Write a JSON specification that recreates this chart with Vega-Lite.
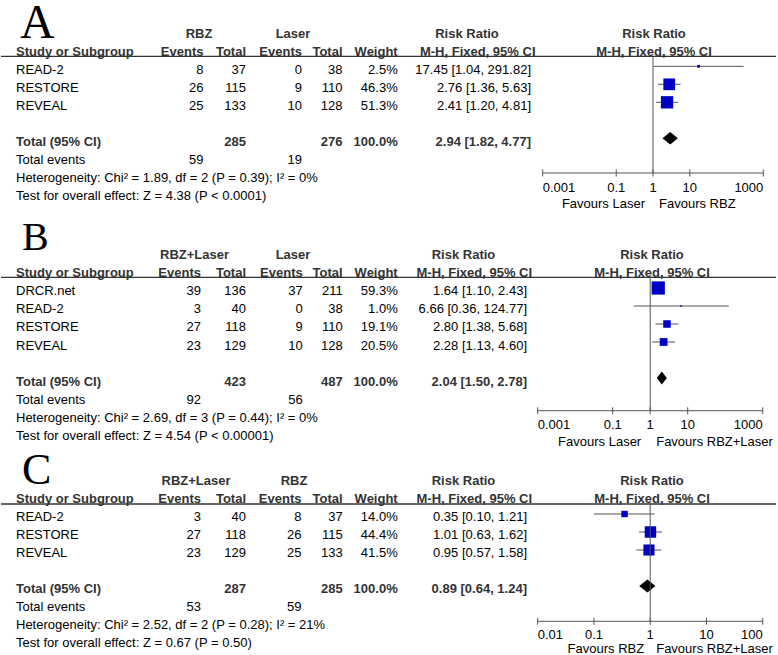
{
"$schema": "https://vega.github.io/schema/vega-lite/v6.json",
"background": "white",
"padding": 0,
"spacing": 0,
"bounds": "flush",
"config": {"view": {"stroke": null}, "text": {"font": "Liberation Sans", "fontSize": 13}},
"datasets": {
"cells": [
{"p":"A","r":-2,"c":12,"k":"L","t":"A"},
{"p":"A","r":-2,"c":7,"k":"h","t":"RBZ"},
{"p":"A","r":-2,"c":8,"k":"h","t":"Laser"},
{"p":"A","r":-2,"c":9,"k":"h","t":"Risk Ratio"},
{"p":"A","r":-2,"c":11,"k":"h","t":"Risk Ratio"},
{"p":"A","r":-1,"c":0,"k":"h","t":"Study or Subgroup"},
{"p":"A","r":-1,"c":1,"k":"h","t":"Events"},
{"p":"A","r":-1,"c":2,"k":"h","t":"Total"},
{"p":"A","r":-1,"c":3,"k":"h","t":"Events"},
{"p":"A","r":-1,"c":4,"k":"h","t":"Total"},
{"p":"A","r":-1,"c":5,"k":"h","t":"Weight"},
{"p":"A","r":-1,"c":10,"k":"h","t":"M-H, Fixed, 95% CI"},
{"p":"A","r":-1,"c":11,"k":"h","t":"M-H, Fixed, 95% CI"},
{"p":"A","r":0,"c":0,"k":"s","t":"READ-2"},
{"p":"A","r":0,"c":1,"k":"s","t":"8"},
{"p":"A","r":0,"c":2,"k":"s","t":"37"},
{"p":"A","r":0,"c":3,"k":"s","t":"0"},
{"p":"A","r":0,"c":4,"k":"s","t":"38"},
{"p":"A","r":0,"c":5,"k":"s","t":"2.5%"},
{"p":"A","r":0,"c":6,"k":"s","t":"17.45 [1.04, 291.82]"},
{"p":"A","r":1,"c":0,"k":"s","t":"RESTORE"},
{"p":"A","r":1,"c":1,"k":"s","t":"26"},
{"p":"A","r":1,"c":2,"k":"s","t":"115"},
{"p":"A","r":1,"c":3,"k":"s","t":"9"},
{"p":"A","r":1,"c":4,"k":"s","t":"110"},
{"p":"A","r":1,"c":5,"k":"s","t":"46.3%"},
{"p":"A","r":1,"c":6,"k":"s","t":"2.76 [1.36, 5.63]"},
{"p":"A","r":2,"c":0,"k":"s","t":"REVEAL"},
{"p":"A","r":2,"c":1,"k":"s","t":"25"},
{"p":"A","r":2,"c":2,"k":"s","t":"133"},
{"p":"A","r":2,"c":3,"k":"s","t":"10"},
{"p":"A","r":2,"c":4,"k":"s","t":"128"},
{"p":"A","r":2,"c":5,"k":"s","t":"51.3%"},
{"p":"A","r":2,"c":6,"k":"s","t":"2.41 [1.20, 4.81]"},
{"p":"A","r":4,"c":0,"k":"T","t":"Total (95% CI)"},
{"p":"A","r":4,"c":2,"k":"T","t":"285"},
{"p":"A","r":4,"c":4,"k":"T","t":"276"},
{"p":"A","r":4,"c":5,"k":"T","t":"100.0%"},
{"p":"A","r":4,"c":6,"k":"T","t":"2.94 [1.82, 4.77]"},
{"p":"A","r":5,"c":0,"k":"f","t":"Total events"},
{"p":"A","r":5,"c":1,"k":"f","t":"59"},
{"p":"A","r":5,"c":3,"k":"f","t":"19"},
{"p":"A","r":6,"c":0,"k":"f","t":"Heterogeneity: Chi² = 1.89, df = 2 (P = 0.39); I² = 0%"},
{"p":"A","r":7,"c":0,"k":"f","t":"Test for overall effect: Z = 4.38 (P < 0.0001)"},
{"p":"B","r":-2,"c":12,"k":"L","t":"B"},
{"p":"B","r":-2,"c":7,"k":"h","t":"RBZ+Laser"},
{"p":"B","r":-2,"c":8,"k":"h","t":"Laser"},
{"p":"B","r":-2,"c":9,"k":"h","t":"Risk Ratio"},
{"p":"B","r":-2,"c":11,"k":"h","t":"Risk Ratio"},
{"p":"B","r":-1,"c":0,"k":"h","t":"Study or Subgroup"},
{"p":"B","r":-1,"c":1,"k":"h","t":"Events"},
{"p":"B","r":-1,"c":2,"k":"h","t":"Total"},
{"p":"B","r":-1,"c":3,"k":"h","t":"Events"},
{"p":"B","r":-1,"c":4,"k":"h","t":"Total"},
{"p":"B","r":-1,"c":5,"k":"h","t":"Weight"},
{"p":"B","r":-1,"c":10,"k":"h","t":"M-H, Fixed, 95% CI"},
{"p":"B","r":-1,"c":11,"k":"h","t":"M-H, Fixed, 95% CI"},
{"p":"B","r":0,"c":0,"k":"s","t":"DRCR.net"},
{"p":"B","r":0,"c":1,"k":"s","t":"39"},
{"p":"B","r":0,"c":2,"k":"s","t":"136"},
{"p":"B","r":0,"c":3,"k":"s","t":"37"},
{"p":"B","r":0,"c":4,"k":"s","t":"211"},
{"p":"B","r":0,"c":5,"k":"s","t":"59.3%"},
{"p":"B","r":0,"c":6,"k":"s","t":"1.64 [1.10, 2.43]"},
{"p":"B","r":1,"c":0,"k":"s","t":"READ-2"},
{"p":"B","r":1,"c":1,"k":"s","t":"3"},
{"p":"B","r":1,"c":2,"k":"s","t":"40"},
{"p":"B","r":1,"c":3,"k":"s","t":"0"},
{"p":"B","r":1,"c":4,"k":"s","t":"38"},
{"p":"B","r":1,"c":5,"k":"s","t":"1.0%"},
{"p":"B","r":1,"c":6,"k":"s","t":"6.66 [0.36, 124.77]"},
{"p":"B","r":2,"c":0,"k":"s","t":"RESTORE"},
{"p":"B","r":2,"c":1,"k":"s","t":"27"},
{"p":"B","r":2,"c":2,"k":"s","t":"118"},
{"p":"B","r":2,"c":3,"k":"s","t":"9"},
{"p":"B","r":2,"c":4,"k":"s","t":"110"},
{"p":"B","r":2,"c":5,"k":"s","t":"19.1%"},
{"p":"B","r":2,"c":6,"k":"s","t":"2.80 [1.38, 5.68]"},
{"p":"B","r":3,"c":0,"k":"s","t":"REVEAL"},
{"p":"B","r":3,"c":1,"k":"s","t":"23"},
{"p":"B","r":3,"c":2,"k":"s","t":"129"},
{"p":"B","r":3,"c":3,"k":"s","t":"10"},
{"p":"B","r":3,"c":4,"k":"s","t":"128"},
{"p":"B","r":3,"c":5,"k":"s","t":"20.5%"},
{"p":"B","r":3,"c":6,"k":"s","t":"2.28 [1.13, 4.60]"},
{"p":"B","r":5,"c":0,"k":"T","t":"Total (95% CI)"},
{"p":"B","r":5,"c":2,"k":"T","t":"423"},
{"p":"B","r":5,"c":4,"k":"T","t":"487"},
{"p":"B","r":5,"c":5,"k":"T","t":"100.0%"},
{"p":"B","r":5,"c":6,"k":"T","t":"2.04 [1.50, 2.78]"},
{"p":"B","r":6,"c":0,"k":"f","t":"Total events"},
{"p":"B","r":6,"c":1,"k":"f","t":"92"},
{"p":"B","r":6,"c":3,"k":"f","t":"56"},
{"p":"B","r":7,"c":0,"k":"f","t":"Heterogeneity: Chi² = 2.69, df = 3 (P = 0.44); I² = 0%"},
{"p":"B","r":8,"c":0,"k":"f","t":"Test for overall effect: Z = 4.54 (P < 0.00001)"},
{"p":"C","r":-2,"c":12,"k":"L","t":"C"},
{"p":"C","r":-2,"c":7,"k":"h","t":"RBZ+Laser"},
{"p":"C","r":-2,"c":8,"k":"h","t":"RBZ"},
{"p":"C","r":-2,"c":9,"k":"h","t":"Risk Ratio"},
{"p":"C","r":-2,"c":11,"k":"h","t":"Risk Ratio"},
{"p":"C","r":-1,"c":0,"k":"h","t":"Study or Subgroup"},
{"p":"C","r":-1,"c":1,"k":"h","t":"Events"},
{"p":"C","r":-1,"c":2,"k":"h","t":"Total"},
{"p":"C","r":-1,"c":3,"k":"h","t":"Events"},
{"p":"C","r":-1,"c":4,"k":"h","t":"Total"},
{"p":"C","r":-1,"c":5,"k":"h","t":"Weight"},
{"p":"C","r":-1,"c":10,"k":"h","t":"M-H, Fixed, 95% CI"},
{"p":"C","r":-1,"c":11,"k":"h","t":"M-H, Fixed, 95% CI"},
{"p":"C","r":0,"c":0,"k":"s","t":"READ-2"},
{"p":"C","r":0,"c":1,"k":"s","t":"3"},
{"p":"C","r":0,"c":2,"k":"s","t":"40"},
{"p":"C","r":0,"c":3,"k":"s","t":"8"},
{"p":"C","r":0,"c":4,"k":"s","t":"37"},
{"p":"C","r":0,"c":5,"k":"s","t":"14.0%"},
{"p":"C","r":0,"c":6,"k":"s","t":"0.35 [0.10, 1.21]"},
{"p":"C","r":1,"c":0,"k":"s","t":"RESTORE"},
{"p":"C","r":1,"c":1,"k":"s","t":"27"},
{"p":"C","r":1,"c":2,"k":"s","t":"118"},
{"p":"C","r":1,"c":3,"k":"s","t":"26"},
{"p":"C","r":1,"c":4,"k":"s","t":"115"},
{"p":"C","r":1,"c":5,"k":"s","t":"44.4%"},
{"p":"C","r":1,"c":6,"k":"s","t":"1.01 [0.63, 1.62]"},
{"p":"C","r":2,"c":0,"k":"s","t":"REVEAL"},
{"p":"C","r":2,"c":1,"k":"s","t":"23"},
{"p":"C","r":2,"c":2,"k":"s","t":"129"},
{"p":"C","r":2,"c":3,"k":"s","t":"25"},
{"p":"C","r":2,"c":4,"k":"s","t":"133"},
{"p":"C","r":2,"c":5,"k":"s","t":"41.5%"},
{"p":"C","r":2,"c":6,"k":"s","t":"0.95 [0.57, 1.58]"},
{"p":"C","r":4,"c":0,"k":"T","t":"Total (95% CI)"},
{"p":"C","r":4,"c":2,"k":"T","t":"287"},
{"p":"C","r":4,"c":4,"k":"T","t":"285"},
{"p":"C","r":4,"c":5,"k":"T","t":"100.0%"},
{"p":"C","r":4,"c":6,"k":"T","t":"0.89 [0.64, 1.24]"},
{"p":"C","r":5,"c":0,"k":"f","t":"Total events"},
{"p":"C","r":5,"c":1,"k":"f","t":"53"},
{"p":"C","r":5,"c":3,"k":"f","t":"59"},
{"p":"C","r":6,"c":0,"k":"f","t":"Heterogeneity: Chi² = 2.52, df = 2 (P = 0.28); I² = 21%"},
{"p":"C","r":7,"c":0,"k":"f","t":"Test for overall effect: Z = 0.67 (P = 0.50)"}
],
"studies": [
{"p":"A","r":0,"est":17.45,"lo":1.04,"hi":291.82,"w":2.5},
{"p":"A","r":1,"est":2.76,"lo":1.36,"hi":5.63,"w":46.3},
{"p":"A","r":2,"est":2.41,"lo":1.20,"hi":4.81,"w":51.3},
{"p":"B","r":0,"est":1.64,"lo":1.10,"hi":2.43,"w":59.3},
{"p":"B","r":1,"est":6.66,"lo":0.36,"hi":124.77,"w":1.0},
{"p":"B","r":2,"est":2.80,"lo":1.38,"hi":5.68,"w":19.1},
{"p":"B","r":3,"est":2.28,"lo":1.13,"hi":4.60,"w":20.5},
{"p":"C","r":0,"est":0.35,"lo":0.10,"hi":1.21,"w":14.0},
{"p":"C","r":1,"est":1.01,"lo":0.63,"hi":1.62,"w":44.4},
{"p":"C","r":2,"est":0.95,"lo":0.57,"hi":1.58,"w":41.5}
],
"totals": [
{"p":"A","r":4,"est":2.94,"lo":1.82,"hi":4.77},
{"p":"B","r":5,"est":2.04,"lo":1.50,"hi":2.78},
{"p":"C","r":4,"est":0.89,"lo":0.64,"hi":1.24}
],
"ticks": [
{"p":"A","v":0.001,"t":"0.001"},{"p":"A","v":0.1,"t":"0.1"},{"p":"A","v":1,"t":"1"},{"p":"A","v":10,"t":"10"},{"p":"A","v":1000,"t":"1000"},
{"p":"B","v":0.001,"t":"0.001"},{"p":"B","v":0.1,"t":"0.1"},{"p":"B","v":1,"t":"1"},{"p":"B","v":10,"t":"10"},{"p":"B","v":1000,"t":"1000"},
{"p":"C","v":0.01,"t":"0.01"},{"p":"C","v":0.1,"t":"0.1"},{"p":"C","v":1,"t":"1"},{"p":"C","v":10,"t":"10"},{"p":"C","v":100,"t":"100"}
],
"fav": [
{"p":"A","s":"L","t":"Favours Laser"},{"p":"A","s":"R","t":"Favours RBZ"},
{"p":"B","s":"L","t":"Favours Laser"},{"p":"B","s":"R","t":"Favours RBZ+Laser"},
{"p":"C","s":"L","t":"Favours RBZ"},{"p":"C","s":"R","t":"Favours RBZ+Laser"}
]
},
"vconcat": [
{
"width": 775, "height": 216,
"resolve": {"scale": {"x": "independent"}},
"layer": [
{
"data": {"name": "cells"},
"encoding": {
"x": {"field": "c", "type": "quantitative", "axis": null, "scale": {"domain": [0,1,2,3,4,5,6,7,8,9,10,11,12], "range": [15,202.5,245,301,341.5,396.7,530,198,292,466,476.7,653,19], "zero": false, "nice": false}},
"y": {"field": "r", "type": "quantitative", "axis": null, "scale": {"domain": [-3.517, 8.483], "reverse": true, "zero": false, "nice": false}},
"text": {"field": "t"}
},
"layer": [
{"transform": [{"filter": "datum.p=='A' && datum.c==0 && (datum.k=='s' || datum.k=='f')"}], "mark": {"type": "text", "align": "left", "baseline": "middle", "dy": 3.5, "color": "#000"}},
{"transform": [{"filter": "datum.p=='A' && datum.c==0 && (datum.k=='h' || datum.k=='T')"}], "mark": {"type": "text", "align": "left", "baseline": "middle", "dy": 3.5, "fontWeight": "bold", "color": "#333"}},
{"transform": [{"filter": "datum.p=='A' && datum.c>=1 && datum.c<=6 && (datum.k=='s' || datum.k=='f')"}], "mark": {"type": "text", "align": "right", "baseline": "middle", "dy": 3.5, "color": "#000"}},
{"transform": [{"filter": "datum.p=='A' && datum.c>=1 && datum.c<=6 && (datum.k=='h' || datum.k=='T')"}], "mark": {"type": "text", "align": "right", "baseline": "middle", "dy": 3.5, "fontWeight": "bold", "color": "#333"}},
{"transform": [{"filter": "datum.p=='A' && datum.c>=7 && datum.c<=11"}], "mark": {"type": "text", "align": "center", "baseline": "middle", "dy": 3.5, "fontWeight": "bold", "color": "#333"}},
{"transform": [{"filter": "datum.p=='A' && datum.k=='L'"}], "mark": {"type": "text", "align": "left", "baseline": "alphabetic", "dy": 7.7, "font": "Liberation Serif", "fontSize": 48, "color": "#000"}}
]
},
{
"layer": [
{"data": {"values": [{}]}, "mark": {"type": "rule", "color": "#333", "strokeWidth": 1.3}, "encoding": {"y": {"datum": -0.556, "axis": null}}},
{"data": {"name": "studies"}, "transform": [{"filter": "datum.p=='A'"}], "mark": {"type": "rule", "color": "#555", "strokeWidth": 1},
 "encoding": {"x": {"field": "lo", "type": "quantitative", "axis": null, "scale": {"type": "log", "domain": [0.001, 1000], "range": [541.7, 762.3], "nice": false}}, "x2": {"field": "hi"}, "y": {"field": "r", "type": "quantitative", "axis": null}}},
{"data": {"name": "studies"}, "transform": [{"filter": "datum.p=='A'"}], "mark": {"type": "point", "shape": "square", "filled": true, "color": "#0000c4", "opacity": 1},
 "encoding": {"x": {"field": "est", "type": "quantitative", "axis": null, "scale": {"type": "log", "domain": [0.001, 1000], "range": [541.7, 762.3], "nice": false}}, "y": {"field": "r", "type": "quantitative", "axis": null}, "size": {"field": "w", "type": "quantitative", "scale": {"domain": [0, 100], "range": [0, 296]}, "legend": null}}},
{"data": {"name": "totals"}, "transform": [{"filter": "datum.p=='A'"}], "mark": {"type": "point", "shape": "M-1,0L0,-0.81L1,0L0,0.81Z", "size": 237, "filled": true, "color": "#000", "opacity": 1},
 "encoding": {"x": {"field": "est", "type": "quantitative", "axis": null, "scale": {"type": "log", "domain": [0.001, 1000], "range": [541.7, 762.3], "nice": false}}, "y": {"field": "r", "type": "quantitative", "axis": null}}},
{"data": {"values": [{}]}, "mark": {"type": "rule", "color": "#555", "strokeWidth": 1},
 "encoding": {"x": {"datum": 1, "axis": null, "scale": {"type": "log", "domain": [0.001, 1000], "range": [541.7, 762.3], "nice": false}}, "y": {"datum": -0.556, "axis": null}, "y2": {"datum": 5.928}}},
{"data": {"values": [{}]}, "mark": {"type": "rule", "color": "#555", "strokeWidth": 1},
 "encoding": {"x": {"datum": 0.001, "axis": null, "scale": {"type": "log", "domain": [0.001, 1000], "range": [541.7, 762.3], "nice": false}}, "x2": {"datum": 1000}, "y": {"datum": 5.928, "axis": null}}},
{"data": {"name": "ticks"}, "transform": [{"filter": "datum.p=='A'"}], "mark": {"type": "tick", "orient": "vertical", "size": 7, "thickness": 1, "color": "#555", "opacity": 1},
 "encoding": {"x": {"field": "v", "type": "quantitative", "axis": null, "scale": {"type": "log", "domain": [0.001, 1000], "range": [541.7, 762.3], "nice": false}}, "y": {"datum": 5.928, "axis": null}}},
{"data": {"name": "ticks"}, "transform": [{"filter": "datum.p=='A' && datum.v==0.001"}], "mark": {"type": "text", "align": "left", "baseline": "middle", "dy": 15, "color": "#000"},
 "encoding": {"x": {"field": "v", "type": "quantitative", "axis": null, "scale": {"type": "log", "domain": [0.001, 1000], "range": [541.7, 762.3], "nice": false}}, "y": {"datum": 5.928, "axis": null}, "text": {"field": "t"}}},
{"data": {"name": "ticks"}, "transform": [{"filter": "datum.p=='A' && datum.v>0.001 && datum.v<1000"}], "mark": {"type": "text", "align": "center", "baseline": "middle", "dy": 15, "color": "#000"},
 "encoding": {"x": {"field": "v", "type": "quantitative", "axis": null, "scale": {"type": "log", "domain": [0.001, 1000], "range": [541.7, 762.3], "nice": false}}, "y": {"datum": 5.928, "axis": null}, "text": {"field": "t"}}},
{"data": {"name": "ticks"}, "transform": [{"filter": "datum.p=='A' && datum.v==1000"}], "mark": {"type": "text", "align": "right", "baseline": "middle", "dy": 15, "color": "#000"},
 "encoding": {"x": {"field": "v", "type": "quantitative", "axis": null, "scale": {"type": "log", "domain": [0.001, 1000], "range": [541.7, 762.3], "nice": false}}, "y": {"datum": 5.928, "axis": null}, "text": {"field": "t"}}},
{"data": {"name": "fav"}, "transform": [{"filter": "datum.p=='A' && datum.s=='L'"}], "mark": {"type": "text", "align": "right", "baseline": "middle", "dx": -8, "dy": 30.75, "color": "#000"},
 "encoding": {"x": {"datum": 1, "axis": null, "scale": {"type": "log", "domain": [0.001, 1000], "range": [541.7, 762.3], "nice": false}}, "y": {"datum": 5.928, "axis": null}, "text": {"field": "t"}}},
{"data": {"name": "fav"}, "transform": [{"filter": "datum.p=='A' && datum.s=='R'"}], "mark": {"type": "text", "align": "left", "baseline": "middle", "dx": 6, "dy": 30.75, "color": "#000"},
 "encoding": {"x": {"datum": 1, "axis": null, "scale": {"type": "log", "domain": [0.001, 1000], "range": [541.7, 762.3], "nice": false}}, "y": {"datum": 5.928, "axis": null}, "text": {"field": "t"}}}
]
}
]
},
{
"width": 775, "height": 228,
"resolve": {"scale": {"x": "independent"}},
"layer": [
{
"data": {"name": "cells"},
"encoding": {
"x": {"field": "c", "type": "quantitative", "axis": null, "scale": {"domain": [0,1,2,3,4,5,6,7,8,9,10,11,12], "range": [15,200,245,301.7,341.7,396.7,526,193.5,292,462.5,473.3,651,21], "zero": false, "nice": false}},
"y": {"field": "r", "type": "quantitative", "axis": null, "scale": {"domain": [-3.833, 8.833], "reverse": true, "zero": false, "nice": false}},
"text": {"field": "t"}
},
"layer": [
{"transform": [{"filter": "datum.p=='B' && datum.c==0 && (datum.k=='s' || datum.k=='f')"}], "mark": {"type": "text", "align": "left", "baseline": "middle", "dy": 3.5, "color": "#000"}},
{"transform": [{"filter": "datum.p=='B' && datum.c==0 && (datum.k=='h' || datum.k=='T')"}], "mark": {"type": "text", "align": "left", "baseline": "middle", "dy": 3.5, "fontWeight": "bold", "color": "#333"}},
{"transform": [{"filter": "datum.p=='B' && datum.c>=1 && datum.c<=6 && (datum.k=='s' || datum.k=='f')"}], "mark": {"type": "text", "align": "right", "baseline": "middle", "dy": 3.5, "color": "#000"}},
{"transform": [{"filter": "datum.p=='B' && datum.c>=1 && datum.c<=6 && (datum.k=='h' || datum.k=='T')"}], "mark": {"type": "text", "align": "right", "baseline": "middle", "dy": 3.5, "fontWeight": "bold", "color": "#333"}},
{"transform": [{"filter": "datum.p=='B' && datum.c>=7 && datum.c<=11"}], "mark": {"type": "text", "align": "center", "baseline": "middle", "dy": 3.5, "fontWeight": "bold", "color": "#333"}},
{"transform": [{"filter": "datum.p=='B' && datum.k=='L'"}], "mark": {"type": "text", "align": "left", "baseline": "alphabetic", "dy": -2.3, "font": "Liberation Serif", "fontSize": 40, "color": "#000"}}
]
},
{
"layer": [
{"data": {"values": [{}]}, "mark": {"type": "rule", "color": "#333", "strokeWidth": 1.3}, "encoding": {"y": {"datum": -0.594, "axis": null}}},
{"data": {"name": "studies"}, "transform": [{"filter": "datum.p=='B'"}], "mark": {"type": "rule", "color": "#555", "strokeWidth": 1},
 "encoding": {"x": {"field": "lo", "type": "quantitative", "axis": null, "scale": {"type": "log", "domain": [0.001, 1000], "range": [536.7, 761.7], "nice": false}}, "x2": {"field": "hi"}, "y": {"field": "r", "type": "quantitative", "axis": null}}},
{"data": {"name": "studies"}, "transform": [{"filter": "datum.p=='B'"}], "mark": {"type": "point", "shape": "square", "filled": true, "color": "#0000c4", "opacity": 1},
 "encoding": {"x": {"field": "est", "type": "quantitative", "axis": null, "scale": {"type": "log", "domain": [0.001, 1000], "range": [536.7, 761.7], "nice": false}}, "y": {"field": "r", "type": "quantitative", "axis": null}, "size": {"field": "w", "type": "quantitative", "scale": {"domain": [0, 100], "range": [0, 243]}, "legend": null}}},
{"data": {"name": "totals"}, "transform": [{"filter": "datum.p=='B'"}], "mark": {"type": "point", "shape": "M-1,0L0,-1.29L1,0L0,1.29Z", "size": 101, "filled": true, "color": "#000", "opacity": 1},
 "encoding": {"x": {"field": "est", "type": "quantitative", "axis": null, "scale": {"type": "log", "domain": [0.001, 1000], "range": [536.7, 761.7], "nice": false}}, "y": {"field": "r", "type": "quantitative", "axis": null}}},
{"data": {"values": [{}]}, "mark": {"type": "rule", "color": "#555", "strokeWidth": 1},
 "encoding": {"x": {"datum": 1, "axis": null, "scale": {"type": "log", "domain": [0.001, 1000], "range": [536.7, 761.7], "nice": false}}, "y": {"datum": -0.594, "axis": null}, "y2": {"datum": 6.817}}},
{"data": {"values": [{}]}, "mark": {"type": "rule", "color": "#555", "strokeWidth": 1},
 "encoding": {"x": {"datum": 0.001, "axis": null, "scale": {"type": "log", "domain": [0.001, 1000], "range": [536.7, 761.7], "nice": false}}, "x2": {"datum": 1000}, "y": {"datum": 6.817, "axis": null}}},
{"data": {"name": "ticks"}, "transform": [{"filter": "datum.p=='B'"}], "mark": {"type": "tick", "orient": "vertical", "size": 7, "thickness": 1, "color": "#555", "opacity": 1},
 "encoding": {"x": {"field": "v", "type": "quantitative", "axis": null, "scale": {"type": "log", "domain": [0.001, 1000], "range": [536.7, 761.7], "nice": false}}, "y": {"datum": 6.817, "axis": null}}},
{"data": {"name": "ticks"}, "transform": [{"filter": "datum.p=='B' && datum.v==0.001"}], "mark": {"type": "text", "align": "left", "baseline": "middle", "dy": 14.75, "color": "#000"},
 "encoding": {"x": {"field": "v", "type": "quantitative", "axis": null, "scale": {"type": "log", "domain": [0.001, 1000], "range": [536.7, 761.7], "nice": false}}, "y": {"datum": 6.817, "axis": null}, "text": {"field": "t"}}},
{"data": {"name": "ticks"}, "transform": [{"filter": "datum.p=='B' && datum.v>0.001 && datum.v<1000"}], "mark": {"type": "text", "align": "center", "baseline": "middle", "dy": 14.75, "color": "#000"},
 "encoding": {"x": {"field": "v", "type": "quantitative", "axis": null, "scale": {"type": "log", "domain": [0.001, 1000], "range": [536.7, 761.7], "nice": false}}, "y": {"datum": 6.817, "axis": null}, "text": {"field": "t"}}},
{"data": {"name": "ticks"}, "transform": [{"filter": "datum.p=='B' && datum.v==1000"}], "mark": {"type": "text", "align": "right", "baseline": "middle", "dy": 14.75, "color": "#000"},
 "encoding": {"x": {"field": "v", "type": "quantitative", "axis": null, "scale": {"type": "log", "domain": [0.001, 1000], "range": [536.7, 761.7], "nice": false}}, "y": {"datum": 6.817, "axis": null}, "text": {"field": "t"}}},
{"data": {"name": "fav"}, "transform": [{"filter": "datum.p=='B' && datum.s=='L'"}], "mark": {"type": "text", "align": "right", "baseline": "middle", "dx": -9, "dy": 31.3, "color": "#000"},
 "encoding": {"x": {"datum": 1, "axis": null, "scale": {"type": "log", "domain": [0.001, 1000], "range": [536.7, 761.7], "nice": false}}, "y": {"datum": 6.817, "axis": null}, "text": {"field": "t"}}},
{"data": {"name": "fav"}, "transform": [{"filter": "datum.p=='B' && datum.s=='R'"}], "mark": {"type": "text", "align": "left", "baseline": "middle", "dx": 6, "dy": 31.3, "color": "#000"},
 "encoding": {"x": {"datum": 1, "axis": null, "scale": {"type": "log", "domain": [0.001, 1000], "range": [536.7, 761.7], "nice": false}}, "y": {"datum": 6.817, "axis": null}, "text": {"field": "t"}}}
]
}
]
},
{
"width": 775, "height": 211,
"resolve": {"scale": {"x": "independent"}},
"layer": [
{
"data": {"name": "cells"},
"encoding": {
"x": {"field": "c", "type": "quantitative", "axis": null, "scale": {"domain": [0,1,2,3,4,5,6,7,8,9,10,11,12], "range": [15,200,245,300.5,341.7,396.7,526,195,293,462.5,473.3,651,21], "zero": false, "nice": false}},
"y": {"field": "r", "type": "quantitative", "axis": null, "scale": {"domain": [-3.722, 8.0], "reverse": true, "zero": false, "nice": false}},
"text": {"field": "t"}
},
"layer": [
{"transform": [{"filter": "datum.p=='C' && datum.c==0 && (datum.k=='s' || datum.k=='f')"}], "mark": {"type": "text", "align": "left", "baseline": "middle", "dy": 3.5, "color": "#000"}},
{"transform": [{"filter": "datum.p=='C' && datum.c==0 && (datum.k=='h' || datum.k=='T')"}], "mark": {"type": "text", "align": "left", "baseline": "middle", "dy": 3.5, "fontWeight": "bold", "color": "#333"}},
{"transform": [{"filter": "datum.p=='C' && datum.c>=1 && datum.c<=6 && (datum.k=='s' || datum.k=='f')"}], "mark": {"type": "text", "align": "right", "baseline": "middle", "dy": 3.5, "color": "#000"}},
{"transform": [{"filter": "datum.p=='C' && datum.c>=1 && datum.c<=6 && (datum.k=='h' || datum.k=='T')"}], "mark": {"type": "text", "align": "right", "baseline": "middle", "dy": 3.5, "fontWeight": "bold", "color": "#333"}},
{"transform": [{"filter": "datum.p=='C' && datum.c>=7 && datum.c<=11"}], "mark": {"type": "text", "align": "center", "baseline": "middle", "dy": 3.5, "fontWeight": "bold", "color": "#333"}},
{"transform": [{"filter": "datum.p=='C' && datum.k=='L'"}], "mark": {"type": "text", "align": "left", "baseline": "alphabetic", "dy": 6, "font": "Liberation Serif", "fontSize": 44, "color": "#000"}}
]
},
{
"layer": [
{"data": {"values": [{}]}, "mark": {"type": "rule", "color": "#333", "strokeWidth": 1.3}, "encoding": {"y": {"datum": -0.556, "axis": null}}},
{"data": {"name": "studies"}, "transform": [{"filter": "datum.p=='C'"}], "mark": {"type": "rule", "color": "#555", "strokeWidth": 1},
 "encoding": {"x": {"field": "lo", "type": "quantitative", "axis": null, "scale": {"type": "log", "domain": [0.01, 100], "range": [536.7, 761.7], "nice": false}}, "x2": {"field": "hi"}, "y": {"field": "r", "type": "quantitative", "axis": null}}},
{"data": {"name": "studies"}, "transform": [{"filter": "datum.p=='C'"}], "mark": {"type": "point", "shape": "square", "filled": true, "color": "#0000c4", "opacity": 1},
 "encoding": {"x": {"field": "est", "type": "quantitative", "axis": null, "scale": {"type": "log", "domain": [0.01, 100], "range": [536.7, 761.7], "nice": false}}, "y": {"field": "r", "type": "quantitative", "axis": null}, "size": {"field": "w", "type": "quantitative", "scale": {"domain": [0, 100], "range": [0, 225]}, "legend": null}}},
{"data": {"name": "totals"}, "transform": [{"filter": "datum.p=='C'"}], "mark": {"type": "point", "shape": "M-1,0L0,-0.8L1,0L0,0.8Z", "size": 261, "filled": true, "color": "#000", "opacity": 1},
 "encoding": {"x": {"field": "est", "type": "quantitative", "axis": null, "scale": {"type": "log", "domain": [0.01, 100], "range": [536.7, 761.7], "nice": false}}, "y": {"field": "r", "type": "quantitative", "axis": null}}},
{"data": {"values": [{}]}, "mark": {"type": "rule", "color": "#555", "strokeWidth": 1},
 "encoding": {"x": {"datum": 1, "axis": null, "scale": {"type": "log", "domain": [0.01, 100], "range": [536.7, 761.7], "nice": false}}, "y": {"datum": -0.556, "axis": null}, "y2": {"datum": 5.961}}},
{"data": {"values": [{}]}, "mark": {"type": "rule", "color": "#555", "strokeWidth": 1},
 "encoding": {"x": {"datum": 0.01, "axis": null, "scale": {"type": "log", "domain": [0.01, 100], "range": [536.7, 761.7], "nice": false}}, "x2": {"datum": 100}, "y": {"datum": 5.961, "axis": null}}},
{"data": {"name": "ticks"}, "transform": [{"filter": "datum.p=='C'"}], "mark": {"type": "tick", "orient": "vertical", "size": 7, "thickness": 1, "color": "#555", "opacity": 1},
 "encoding": {"x": {"field": "v", "type": "quantitative", "axis": null, "scale": {"type": "log", "domain": [0.01, 100], "range": [536.7, 761.7], "nice": false}}, "y": {"datum": 5.961, "axis": null}}},
{"data": {"name": "ticks"}, "transform": [{"filter": "datum.p=='C' && datum.v==0.01"}], "mark": {"type": "text", "align": "left", "baseline": "middle", "dy": 13.25, "color": "#000"},
 "encoding": {"x": {"field": "v", "type": "quantitative", "axis": null, "scale": {"type": "log", "domain": [0.01, 100], "range": [536.7, 761.7], "nice": false}}, "y": {"datum": 5.961, "axis": null}, "text": {"field": "t"}}},
{"data": {"name": "ticks"}, "transform": [{"filter": "datum.p=='C' && datum.v>0.01 && datum.v<100"}], "mark": {"type": "text", "align": "center", "baseline": "middle", "dy": 13.25, "color": "#000"},
 "encoding": {"x": {"field": "v", "type": "quantitative", "axis": null, "scale": {"type": "log", "domain": [0.01, 100], "range": [536.7, 761.7], "nice": false}}, "y": {"datum": 5.961, "axis": null}, "text": {"field": "t"}}},
{"data": {"name": "ticks"}, "transform": [{"filter": "datum.p=='C' && datum.v==100"}], "mark": {"type": "text", "align": "right", "baseline": "middle", "dy": 13.25, "color": "#000"},
 "encoding": {"x": {"field": "v", "type": "quantitative", "axis": null, "scale": {"type": "log", "domain": [0.01, 100], "range": [536.7, 761.7], "nice": false}}, "y": {"datum": 5.961, "axis": null}, "text": {"field": "t"}}},
{"data": {"name": "fav"}, "transform": [{"filter": "datum.p=='C' && datum.s=='L'"}], "mark": {"type": "text", "align": "right", "baseline": "middle", "dx": -6, "dy": 27.3, "color": "#000"},
 "encoding": {"x": {"datum": 1, "axis": null, "scale": {"type": "log", "domain": [0.01, 100], "range": [536.7, 761.7], "nice": false}}, "y": {"datum": 5.961, "axis": null}, "text": {"field": "t"}}},
{"data": {"name": "fav"}, "transform": [{"filter": "datum.p=='C' && datum.s=='R'"}], "mark": {"type": "text", "align": "left", "baseline": "middle", "dx": 6, "dy": 27.3, "color": "#000"},
 "encoding": {"x": {"datum": 1, "axis": null, "scale": {"type": "log", "domain": [0.01, 100], "range": [536.7, 761.7], "nice": false}}, "y": {"datum": 5.961, "axis": null}, "text": {"field": "t"}}}
]
}
]
}
]
}
